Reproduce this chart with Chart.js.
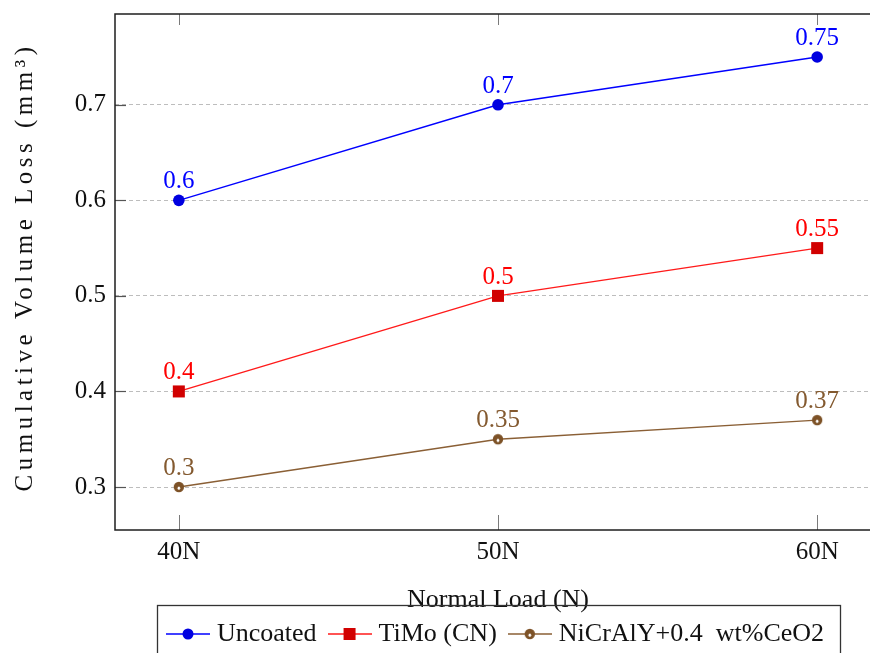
<!DOCTYPE html>
<html>
<head>
<meta charset="utf-8">
<script src="https://cdn.jsdelivr.net/npm/chart.js@4.4.1/dist/chart.umd.min.js"></script>
<style>
  html, body { margin: 0; padding: 0; background: #ffffff; overflow: hidden; width: 870px; height: 653px; }
  #wrap { position: absolute; left: 0; top: 0; width: 996px; height: 657px; }
</style>
</head>
<body>
<div id="wrap"><canvas id="c" width="996" height="657"></canvas></div>
<script>
// ---- data ----
const categories = ['40N', '50N', '60N'];
const loads = [40, 50, 60];
const uncoated = [0.6, 0.7, 0.75];
const timo = [0.4, 0.5, 0.55];
const nicraly = [0.3, 0.35, 0.37];
const yTicks = [0.3, 0.4, 0.5, 0.6, 0.7];
const seriesNames = ['Uncoated', 'TiMo (CN)', 'NiCrAlY+0.4  wt%CeO2'];
const xTitle = 'Normal Load (N)';
const yTitle = 'Cumulative Volume Loss (mm\u00B3)';

// ---- styles ----
const FONT = '"Liberation Serif", "Times New Roman", serif';
const blue = '#0000ff', blueMark = '#0000e0';
const red = '#ff1a1a', redMark = '#d10000', redText = '#ff0000';
const brown = '#8a5f35', brownMark = '#7d5227', brownText = '#83592f';

function brownMarker(r) {
  const c = document.createElement('canvas');
  const s = Math.ceil(r * 2 + 3);
  c.width = s; c.height = s;
  const g = c.getContext('2d');
  g.fillStyle = brownMark;
  g.beginPath(); g.arc(s / 2, s / 2, r, 0, Math.PI * 2); g.fill();
  g.fillStyle = '#ffffff';
  g.beginPath(); g.ellipse(s / 2, s / 2 + 1.2, 1.3, 1.6, 0, 0, Math.PI * 2); g.fill();
  return c;
}
const brownPt = brownMarker(5.2);

function legendIcon(lineColor, kind) {
  const w = 44, h = 16;
  const c = document.createElement('canvas');
  c.width = w; c.height = h;
  const g = c.getContext('2d');
  g.strokeStyle = lineColor; g.lineWidth = 1.4;
  g.beginPath(); g.moveTo(0, h / 2); g.lineTo(w, h / 2); g.stroke();
  if (kind === 'circle') {
    g.fillStyle = blueMark; g.beginPath(); g.arc(w / 2, h / 2, 5.5, 0, Math.PI * 2); g.fill();
  } else if (kind === 'rect') {
    g.fillStyle = redMark; g.fillRect(w / 2 - 6, h / 2 - 6, 12, 12);
  } else {
    g.drawImage(brownPt, w / 2 - brownPt.width / 2, h / 2 - brownPt.height / 2);
  }
  return c;
}
const legendIcons = [legendIcon(blue, 'circle'), legendIcon(red, 'rect'), legendIcon(brown, 'brown')];
const labelColors = [blue, redText, brownText];

const toXY = (vals) => vals.map((v, i) => ({ x: loads[i], y: v }));

const legendCenter = {
  id: 'legendCenter',
  afterLayout(chart) {
    const lg = chart.legend;
    if (lg) { lg.left = 0; lg.right = chart.width; lg.width = chart.width; }
  }
};

const framePlugin = {
  id: 'frame',
  afterDraw(chart) {
    const { ctx, chartArea: a } = chart;
    const xs = chart.scales.x, ys = chart.scales.y;
    ctx.save();
    // inner tick marks
    ctx.lineWidth = 1;
    ctx.strokeStyle = '#7a7a7a';
    xs.ticks.forEach(t => {
      const px = Math.round(xs.getPixelForValue(t.value)) + 0.5;
      ctx.beginPath(); ctx.moveTo(px, a.bottom); ctx.lineTo(px, a.bottom - 15); ctx.stroke();
      ctx.beginPath(); ctx.moveTo(px, a.top); ctx.lineTo(px, a.top + 11); ctx.stroke();
    });
    ctx.strokeStyle = '#555';
    ctx.lineWidth = 1.2;
    ys.ticks.forEach(t => {
      const py = Math.round(ys.getPixelForValue(t.value)) + 0.5;
      ctx.beginPath(); ctx.moveTo(a.left, py); ctx.lineTo(a.left + 11, py); ctx.stroke();
      ctx.beginPath(); ctx.moveTo(a.right, py); ctx.lineTo(a.right - 11, py); ctx.stroke();
    });
    // plot frame
    ctx.strokeStyle = '#1e1e1e';
    ctx.lineWidth = 1.5;
    ctx.strokeRect(a.left, a.top, a.right - a.left, a.bottom - a.top);
    // legend frame
    const lg = chart.legend;
    if (lg && lg.legendHitBoxes && lg.legendHitBoxes.length) {
      const hb = lg.legendHitBoxes;
      const first = hb[0], last = hb[hb.length - 1];
      const left = first.left - 15, right = last.left + last.width + 16;
      const top = first.top - 16;
      ctx.strokeStyle = '#333';
      ctx.lineWidth = 1.3;
      ctx.strokeRect(Math.round(left) + 0.5, Math.round(top) + 0.5, Math.round(right - left), 120);
    }
    // y axis title with letter spacing
    ctx.translate(25, 267);
    ctx.rotate(-Math.PI / 2);
    ctx.font = '25px ' + FONT;
    ctx.fillStyle = '#111';
    ctx.textAlign = 'center';
    ctx.textBaseline = 'middle';
    try { ctx.letterSpacing = '4.5px'; } catch (e) {}
    ctx.fillText(yTitle, 0, 0);
    ctx.restore();
  }
};

const valueLabels = {
  id: 'valueLabels',
  afterDatasetsDraw(chart) {
    const { ctx } = chart;
    ctx.save();
    ctx.font = '25px ' + FONT;
    ctx.textAlign = 'center';
    ctx.textBaseline = 'alphabetic';
    chart.data.datasets.forEach((ds, di) => {
      const meta = chart.getDatasetMeta(di);
      ctx.fillStyle = labelColors[di];
      meta.data.forEach((pt, i) => {
        ctx.fillText(String(ds.data[i].y), pt.x, pt.y - 12);
      });
    });
    ctx.restore();
  }
};

Chart.defaults.font.family = FONT;
Chart.defaults.color = '#111';

new Chart(document.getElementById('c'), {
  type: 'line',
  data: {
    datasets: [
      { label: seriesNames[0], data: toXY(uncoated), borderColor: blue, backgroundColor: blueMark,
        borderWidth: 1.4, pointStyle: 'circle', pointRadius: 5.8, pointBorderWidth: 0,
        pointBackgroundColor: blueMark, tension: 0 },
      { label: seriesNames[1], data: toXY(timo), borderColor: red, backgroundColor: redMark,
        borderWidth: 1.4, pointStyle: 'rect', pointRadius: 8.5, pointBorderWidth: 0,
        pointBackgroundColor: redMark, tension: 0 },
      { label: seriesNames[2], data: toXY(nicraly), borderColor: brown, backgroundColor: brownMark,
        borderWidth: 1.4, pointStyle: brownPt, pointRadius: 5.2, tension: 0 }
    ]
  },
  options: {
    responsive: false,
    animation: false,
    devicePixelRatio: 1,
    layout: { padding: { top: 14, right: 115, bottom: 0, left: 0 } },
    plugins: {
      legend: {
        display: true,
        position: 'bottom',
        labels: {
          usePointStyle: true,
          pointStyleWidth: 32,
          padding: 17,
          color: '#111',
          font: { size: 26, family: FONT },
          generateLabels(chart) {
            const items = Chart.defaults.plugins.legend.labels.generateLabels(chart);
            items.forEach((it, i) => { it.pointStyle = legendIcons[i]; it.fontColor = '#111'; });
            return items;
          }
        }
      },
      tooltip: { enabled: false },
      title: { display: false }
    },
    scales: {
      x: {
        type: 'linear',
        min: 38,
        max: 62,
        afterBuildTicks(s) { s.ticks = loads.map(v => ({ value: v })); },
        ticks: {
          autoSkip: false, maxRotation: 0, padding: 7,
          font: { size: 25, family: FONT }, color: '#111',
          callback: (v) => categories[loads.indexOf(v)]
        },
        grid: { display: false, drawTicks: false },
        border: { display: false },
        title: {
          display: true, text: xTitle, color: '#111',
          font: { size: 26, family: FONT },
          padding: { top: 10.4, bottom: -11.6 }
        }
      },
      y: {
        type: 'linear',
        min: 0.255,
        max: 0.795,
        afterBuildTicks(s) { s.ticks = yTicks.map(v => ({ value: v })); },
        afterFit(s) { s.width = 115; s.paddingTop = 0; s.paddingBottom = 0; },
        ticks: {
          padding: 9, font: { size: 25, family: FONT }, color: '#111',
          callback: (v) => v.toFixed(1)
        },
        grid: { color: '#bdbdbd', lineWidth: 1, drawTicks: false },
        border: { display: false, dash: [4, 3] },
        title: { display: false }
      }
    }
  },
  plugins: [legendCenter, framePlugin, valueLabels]
});
</script>
</body>
</html>
